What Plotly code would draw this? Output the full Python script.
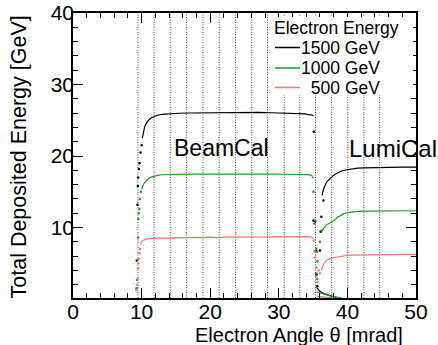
import plotly.graph_objects as go

# ---- data -------------------------------------------------------------
# calorimeter ring boundaries [mrad]
ring_edges = [9.47, 11.82, 14.18, 16.53, 18.95, 21.3, 23.7, 26.05, 28.35,
              30.8, 33.05, 35.35, 37.7, 40.05, 42.4, 44.7]

# 1500 GeV electrons
e1500_beam_x = [10.1, 10.25, 10.45, 10.7, 11.0, 11.4, 11.8, 12.3, 13.0, 14.0, 15.5, 17, 19, 21,
                23, 25, 27, 29, 30.5, 31.5, 32.5, 33.2, 33.8, 34.3, 34.8, 35.0]
e1500_beam_y = [22.5, 23.4, 24.1, 24.6, 25.0, 25.35, 25.55, 25.7, 25.82, 25.9, 25.98, 26.02, 26.05,
                26.08, 26.1, 26.1, 26.1, 26.05, 26.0, 26.0, 25.9, 25.85, 25.9, 25.8, 25.75, 25.6]
e1500_lumi_x = [36.3, 36.6, 37.0, 37.5, 38.0, 38.5, 39.0, 39.7, 40.5, 41.5, 42.5, 44, 46, 48, 50]
e1500_lumi_y = [14.5, 15.6, 16.4, 16.9, 17.3, 17.6, 17.85, 18.05, 18.2, 18.3, 18.35, 18.4, 18.42,
                18.45, 18.45]
e1500_tail_x = [35.5, 36.0, 36.5, 37.0, 37.5, 38.0, 38.5, 39.0]
e1500_tail_y = [1.6, 1.1, 0.8, 0.6, 0.45, 0.32, 0.22, 0.15]
e1500_edge_x = [9.3, 9.4, 9.45, 9.5, 9.6, 9.7, 9.85, 10.0,
                35.1, 35.05, 35.3, 35.4, 35.5, 35.6, 36.0, 36.1, 36.2, 36.5]
e1500_edge_y = [5.4, 13.2, 15.8, 17.0, 18.2, 19.0, 20.5, 21.5,
                23.4, 11.0, 10.8, 6.8, 3.4, 1.8, 6.8, 9.4, 11.5, 13.8]

# 1000 GeV electrons
e1000_beam_x = [10.0, 10.2, 10.45, 10.7, 11.0, 11.4, 11.8, 12.3, 13.0, 14, 15.5, 17, 19, 21, 23,
                25, 27, 29, 31, 32.5, 33.5, 34.3, 34.8, 35.0]
e1000_beam_y = [15.3, 15.9, 16.3, 16.6, 16.85, 17.05, 17.2, 17.3, 17.38, 17.42, 17.45, 17.47,
                17.48, 17.5, 17.5, 17.5, 17.48, 17.48, 17.45, 17.45, 17.42, 17.4, 17.3, 16.9]
e1000_lumi_x = [36.3, 36.6, 37.0, 37.4, 37.8, 38.1, 38.5, 39.0, 39.5, 40.0, 40.7, 41.5, 42.5,
                44, 46, 48, 50]
e1000_lumi_y = [9.5, 10.0, 10.4, 10.6, 10.8, 11.0, 11.4, 11.7, 11.95, 12.1, 12.2, 12.25, 12.3,
                12.3, 12.32, 12.33, 12.35]
e1000_tail_x = [35.5, 36.0, 36.5, 37.0, 37.5, 38.0, 38.5, 39.2]
e1000_tail_y = [1.0, 0.85, 0.72, 0.58, 0.46, 0.34, 0.24, 0.12]
e1000_edge_x = [9.25, 9.35, 9.42, 9.48, 9.52, 9.6, 9.67, 9.77, 9.9,
                35.05, 35.18, 35.3, 35.47, 35.6, 35.6, 36.0, 36.25, 35.47, 35.6]
e1000_edge_y = [1.5, 2.7, 5.5, 8.6, 11.2, 12.0, 12.6, 14.0, 15.0,
                15.0, 10.55, 11.0, 7.05, 6.6, 5.3, 8.0, 9.6, 3.6, 2.8]

# 500 GeV electrons
e500_beam_x = [9.85, 10.0, 10.2, 10.5, 10.8, 11.2, 11.7, 12.3, 13, 13.8, 14.6, 15.5, 16.4, 17.3,
               18.2, 19.1, 20, 21, 22, 23, 24, 25, 26, 27, 28, 29, 30, 31, 32, 33, 34, 34.6, 35.0]
e500_beam_y = [7.6, 8.0, 8.2, 8.35, 8.42, 8.45, 8.5, 8.47, 8.55, 8.5, 8.58, 8.55, 8.6, 8.55,
               8.62, 8.58, 8.65, 8.6, 8.68, 8.65, 8.7, 8.66, 8.7, 8.68, 8.72, 8.7, 8.72, 8.7,
               8.73, 8.7, 8.72, 8.7, 8.5]
e500_lumi_x = [36.2, 36.5, 36.9, 37.3, 37.8, 38.3, 39.0, 40.0, 41, 42, 43, 44.5, 46, 48, 50]
e500_lumi_y = [4.0, 4.8, 5.4, 5.6, 5.75, 5.85, 5.98, 6.1, 6.15, 6.18, 6.2, 6.22, 6.22, 6.24, 6.25]
e500_tail_x = [35.5, 36.0, 36.5, 37.0, 37.5, 38.2]
e500_tail_y = [0.4, 0.35, 0.28, 0.22, 0.15, 0.1]
e500_edge_x = [9.25, 9.35, 9.42, 9.5, 9.55, 9.62, 9.7, 9.78,
               35.1, 35.2, 35.3, 35.5, 35.4, 35.6, 35.8, 36.0]
e500_edge_y = [1.2, 2.0, 2.8, 4.3, 5.0, 5.6, 6.4, 7.0,
               8.2, 6.7, 5.8, 4.4, 3.2, 2.4, 4.0, 3.6]

legend_labels = ["1500 GeV", "1000 GeV", " 500 GeV"]
colors = ["#000000", "#1f9e1f", "#ff7373"]

# ---- layout geometry (pixels) ----------------------------------------
W, H = 438, 345
PL, PR, PT, PB = 73, 416, 13, 298
FONT = "Liberation Sans, Arial, Helvetica, sans-serif"


def pxx(x):
    return (x - PL) / (PR - PL)


def pxy(y):
    return (PB - y) / (PB - PT)


Y_RANGE = [0.15, 40]
X_RANGE = [0, 50]

fig = go.Figure()

# ring boundary lines
gx, gy = [], []
for e in ring_edges:
    gx += [e, e, None]
    gy += [Y_RANGE[0], Y_RANGE[1], None]
fig.add_trace(go.Scatter(x=gx, y=gy, mode="lines", hoverinfo="skip",
                         line=dict(color="#444444", width=1, dash="1px,1.5px"),
                         showlegend=False))


def join(*segs):
    xs, ys = [], []
    for sx, sy in segs:
        xs += list(sx) + [None]
        ys += list(sy) + [None]
    return xs, ys


series = [
    (e1500_beam_x, e1500_beam_y, e1500_lumi_x, e1500_lumi_y, e1500_tail_x, e1500_tail_y,
     e1500_edge_x, e1500_edge_y),
    (e1000_beam_x, e1000_beam_y, e1000_lumi_x, e1000_lumi_y, e1000_tail_x, e1000_tail_y,
     e1000_edge_x, e1000_edge_y),
    (e500_beam_x, e500_beam_y, e500_lumi_x, e500_lumi_y, e500_tail_x, e500_tail_y,
     e500_edge_x, e500_edge_y),
]

for (bx, by, lx, ly, tx, ty, ex, ey), col, name in zip(series, colors, legend_labels):
    xs, ys = join((bx, by), (lx, ly), (tx, ty))
    fig.add_trace(go.Scatter(x=xs, y=ys, mode="lines", name=name.strip(),
                             line=dict(color=col, width=1.2), showlegend=False))
    fig.add_trace(go.Scatter(x=ex, y=ey, mode="markers", name=name.strip(),
                             marker=dict(color=col, size=2.5), showlegend=False))

axis_common = dict(
    showgrid=False, zeroline=False, showline=True, linecolor="black", linewidth=1.5,
    mirror="allticks", ticks="inside", ticklen=10, tickwidth=1, tickcolor="black",
    tickfont=dict(family=FONT, size=21, color="black"), automargin=False,
)

fig.update_xaxes(range=X_RANGE, dtick=10, tick0=0, ticklabelstandoff=-6,
                 minor=dict(dtick=2, ticklen=5, ticks="inside", tickcolor="black"),
                 **axis_common)
fig.update_yaxes(range=Y_RANGE, dtick=10, tick0=0, ticklabelstandoff=-7,
                 minor=dict(dtick=2, ticklen=5, ticks="inside", tickcolor="black"),
                 **axis_common)

annotations = [
    dict(text="Total Deposited Energy [GeV]", textangle=-90, xref="paper", yref="paper",
         x=pxx(18), y=pxy(14), xanchor="center", yanchor="top", showarrow=False,
         font=dict(family=FONT, size=21.5, color="black")),
    dict(text="Electron Angle θ [mrad]", xref="paper", yref="paper",
         x=pxx(405), y=pxy(335), xanchor="right", yanchor="middle", showarrow=False,
         font=dict(family=FONT, size=20, color="black")),
    dict(text="BeamCal", xref="x", yref="y", x=21.66, y=21.1, xanchor="center",
         yanchor="middle", showarrow=False, font=dict(family=FONT, size=23, color="black")),
    dict(text="LumiCal", xref="x", yref="y", x=46.6, y=21.1, xanchor="center",
         yanchor="middle", showarrow=False, font=dict(family=FONT, size=24, color="black")),
    dict(text="Electron Energy", xref="paper", yref="paper", x=pxx(272), y=pxy(28.5),
         xanchor="left", yanchor="middle", showarrow=False,
         font=dict(family=FONT, size=17.5, color="black")),
]

shapes = [
    # legend background
    dict(type="rect", xref="paper", yref="paper", x0=pxx(270), x1=pxx(413),
         y0=pxy(95), y1=pxy(17), fillcolor="white", line=dict(width=0), layer="above"),
]

legend_rows = [47.5, 68, 87.5]
for name, col, ry in zip(legend_labels, colors, legend_rows):
    shapes.append(dict(type="line", xref="paper", yref="paper", x0=pxx(275), x1=pxx(300),
                       y0=pxy(ry), y1=pxy(ry), line=dict(color=col, width=1.5), layer="above"))
    annotations.append(dict(text=name.replace(" ", "&nbsp;", 1) if name.startswith(" ") else name,
                            xref="paper", yref="paper", x=pxx(382), y=pxy(ry),
                            xanchor="right", yanchor="middle", showarrow=False,
                            font=dict(family=FONT, size=17.5, color="black")))

fig.update_layout(
    width=W, height=H,
    margin=dict(l=PL, r=W - PR, t=PT, b=H - PB, pad=0, autoexpand=False),
    paper_bgcolor="white", plot_bgcolor="white",
    showlegend=False,
    annotations=annotations, shapes=shapes,
    font=dict(family=FONT, color="black"),
)

fig.write_html("out.html")
